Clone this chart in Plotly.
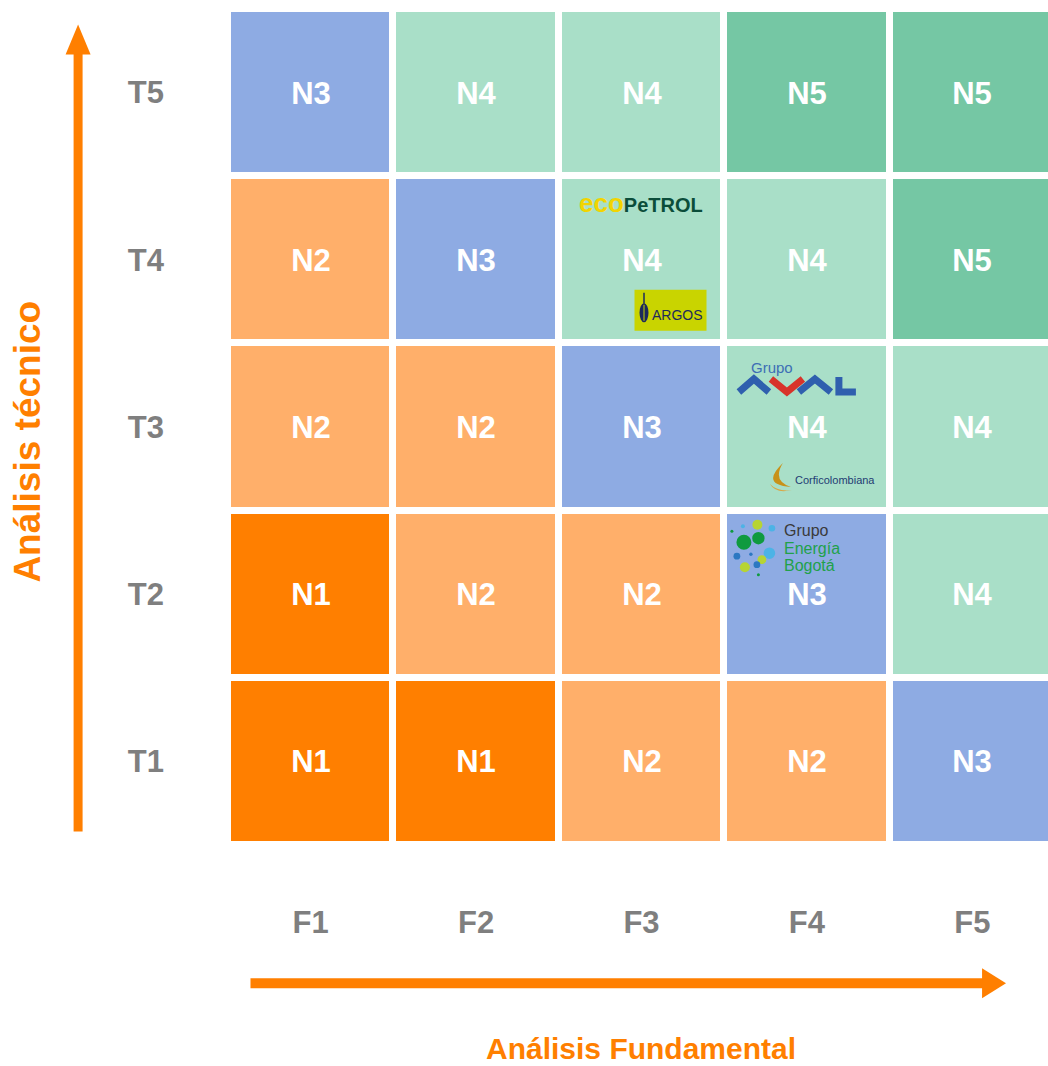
import plotly.graph_objects as go

# ---------------- data ----------------
fundamental = ["F1", "F2", "F3", "F4", "F5"]
tecnico = ["T1", "T2", "T3", "T4", "T5"]
# rows = T1..T5, columns = F1..F5
niveles = [
    ["N1", "N1", "N2", "N2", "N3"],  # T1
    ["N1", "N2", "N2", "N3", "N4"],  # T2
    ["N2", "N2", "N3", "N4", "N4"],  # T3
    ["N2", "N3", "N4", "N4", "N5"],  # T4
    ["N3", "N4", "N4", "N5", "N5"],  # T5
]
nivel_labels = ["N1", "N2", "N3", "N4", "N5"]
nivel_colors = ["#FF7F00", "#FFAF6A", "#8EABE3", "#A9DFC8", "#75C7A4"]

# companies placed in the matrix: (fundamental, tecnico)
empresa_ecopetrol = ("F3", "T4")
empresa_argos = ("F3", "T4")
empresa_aval = ("F4", "T3")
empresa_corfi = ("F4", "T3")
empresa_geb = ("F4", "T2")

ORANGE = "#FF7F00"
GRAY = "#7F7F7F"
SANS = "Liberation Sans, Arial, sans-serif"

# ---------------- figure geometry ----------------
W, H = 1048, 1066
ML, MT, MB = 227.5, 8.5, 220.5
PW = W - ML
PH = H - MT - MB
PITCH_X = 165.5

z = [[nivel_labels.index(v) + 1 for v in row] for row in niveles]
n = len(nivel_colors)
colorscale = []
for i, c in enumerate(nivel_colors):
    colorscale.append([i / n, c])
    colorscale.append([(i + 1) / n, c])

xi = list(range(len(fundamental)))
yi = list(range(len(tecnico)))

fig = go.Figure(
    go.Heatmap(
        x=xi, y=yi, z=z, text=niveles, texttemplate="%{text}",
        textfont=dict(family=SANS, size=31, color="white", weight="bold"),
        colorscale=colorscale, zmin=0.5, zmax=n + 0.5, showscale=False,
        xgap=7, ygap=7, hoverinfo="skip",
    )
)

fig.update_layout(
    width=W, height=H,
    margin=dict(l=ML, r=0, t=MT, b=MB, pad=0),
    paper_bgcolor="white", plot_bgcolor="white",
    showlegend=False,
)
fig.update_xaxes(
    range=[-0.5, -0.5 + PW / PITCH_X], tickvals=xi, ticktext=fundamental,
    showgrid=False, zeroline=False, showline=False, ticks="",
    tickfont=dict(family=SANS, size=31, color=GRAY, weight="bold"),
    ticklabelstandoff=56, fixedrange=True,
)
fig.update_yaxes(
    range=[-0.5, 4.5], tickvals=yi, ticktext=tecnico,
    showgrid=False, zeroline=False, showline=False, ticks="",
    tickfont=dict(family=SANS, size=31, color=GRAY, weight="bold"),
    ticklabelstandoff=63, fixedrange=True,
)


def px_x(p):
    return (p - ML) / PW


def px_y(p):
    return (MT + PH - p) / PH


shapes = []
annotations = []

# ---------------- axis arrows & titles ----------------
shapes.append(dict(type="line", xref="paper", yref="paper",
                   x0=px_x(77.5), x1=px_x(77.5), y0=px_y(832), y1=px_y(50),
                   line=dict(color=ORANGE, width=9)))
shapes.append(dict(type="path", xref="paper", yref="paper",
                   path=f"M {px_x(65)},{px_y(54)} L {px_x(90)},{px_y(54)} L {px_x(77.5)},{px_y(24)} Z",
                   fillcolor=ORANGE, line=dict(width=0)))
shapes.append(dict(type="line", xref="paper", yref="paper",
                   x0=px_x(250), x1=px_x(985), y0=px_y(984), y1=px_y(984),
                   line=dict(color=ORANGE, width=10)))
shapes.append(dict(type="path", xref="paper", yref="paper",
                   path=f"M {px_x(982)},{px_y(969)} L {px_x(982)},{px_y(999)} L {px_x(1006)},{px_y(984)} Z",
                   fillcolor=ORANGE, line=dict(width=0)))

annotations.append(dict(xref="paper", yref="paper", x=px_x(27), y=px_y(442),
                        text="Análisis técnico", showarrow=False, textangle=-90,
                        font=dict(family=SANS, size=37, color=ORANGE, weight="bold"),
                        xanchor="center", yanchor="middle"))
annotations.append(dict(xref="paper", yref="paper", x=px_x(641), y=px_y(1049),
                        text="Análisis Fundamental", showarrow=False,
                        font=dict(family=SANS, size=30, color=ORANGE, weight="bold"),
                        xanchor="center", yanchor="middle"))


# ---------------- logos (offsets in pixels from the cell centre, dy downward) ----------------
def cell(c):
    return fundamental.index(c[0]), tecnico.index(c[1])


def txt(c, dx, dy, text, size, color, family=SANS, weight="normal", xanchor="center"):
    cx, cy = cell(c)
    annotations.append(dict(xref="x", yref="y", x=cx, y=cy, xshift=dx, yshift=-dy,
                            text=text, showarrow=False, xanchor=xanchor, yanchor="middle",
                            font=dict(family=family, size=size, color=color, weight=weight)))


def circ(c, dx, dy, rx, ry, color):
    cx, cy = cell(c)
    shapes.append(dict(type="circle", xref="x", yref="y", xsizemode="pixel", ysizemode="pixel",
                       xanchor=cx, yanchor=cy, x0=dx - rx, x1=dx + rx, y0=-dy - ry, y1=-dy + ry,
                       fillcolor=color, line=dict(width=0)))


def rect(c, dx0, dy0, dx1, dy1, color):
    cx, cy = cell(c)
    shapes.append(dict(type="rect", xref="x", yref="y", xsizemode="pixel", ysizemode="pixel",
                       xanchor=cx, yanchor=cy, x0=dx0, x1=dx1, y0=-dy1, y1=-dy0,
                       fillcolor=color, line=dict(width=0)))


def poly(c, pts, color, width, fill=None):
    cx, cy = cell(c)
    d = "M " + " L ".join(f"{p[0]},{-p[1]}" for p in pts)
    if fill:
        d += " Z"
    shapes.append(dict(type="path", xref="x", yref="y", xsizemode="pixel", ysizemode="pixel",
                       xanchor=cx, yanchor=cy, path=d,
                       fillcolor=fill if fill else "rgba(0,0,0,0)",
                       line=dict(color=color, width=width)))


def qpath(c, d_pts, color):
    # start, ctrl, end, ctrl2 -> closed crescent
    cx, cy = cell(c)
    (s, c1, e, c2) = d_pts
    d = (f"M {s[0]},{-s[1]} Q {c1[0]},{-c1[1]} {e[0]},{-e[1]} "
         f"Q {c2[0]},{-c2[1]} {s[0]},{-s[1]} Z")
    shapes.append(dict(type="path", xref="x", yref="y", xsizemode="pixel", ysizemode="pixel",
                       xanchor=cx, yanchor=cy, path=d, fillcolor=color, line=dict(width=0)))


# Ecopetrol
txt(empresa_ecopetrol, -1, -57,
    "<span style='color:#F2D400;font-size:26px'>eco</span><span style='color:#0B4D3A'>PeTROL</span>",
    20, "#0B4D3A", weight="bold")

# Argos
rect(empresa_argos, -7, 30, 65, 71, "#C9D400")
circ(empresa_argos, 2.5, 53, 4.5, 9.5, "#1D2A5C")
poly(empresa_argos, [(2.5, 33), (2.5, 44)], "#1D2A5C", 1.5)
poly(empresa_argos, [(2.5, 45), (2.5, 61)], "#C9D400", 1)
txt(empresa_argos, 36, 55, "ARGOS", 14, "#1D2A5C")

# Grupo Aval
txt(empresa_aval, -35, -60, "Grupo", 15, "#3D6EB5")
poly(empresa_aval, [(-68, -35), (-53, -48), (-38, -35)], "#2F5FAE", 7)
poly(empresa_aval, [(-36, -48), (-20, -35), (-4, -48)], "#D8332A", 7)
poly(empresa_aval, [(-8, -35), (8, -48), (24, -35)], "#2F5FAE", 7)
poly(empresa_aval, [(32, -50), (32, -35), (49, -35)], "#2F5FAE", 7)

# Corficolombiana
qpath(empresa_corfi, [(-24, 36), (-47, 58), (-16, 60), (-35, 54)], "#C8921A")
qpath(empresa_corfi, [(-37, 57), (-31, 67), (-15, 63), (-29, 65)], "#D9A845")
txt(empresa_corfi, -14, 53, "Corficolombiana", 11, "#1F3C73", xanchor="left")

# Grupo Energía Bogotá
geb_dots = [
    (-75, -63, 1.5, "#0F9A3F"), (-64, -68, 2, "#4CB3E6"), (-49.5, -69.5, 5, "#B7D433"),
    (-35, -66, 3.3, "#4CB3E6"), (-63, -52, 7.5, "#0F9A3F"), (-48.5, -56, 6.2, "#0F9A3F"),
    (-37.5, -41, 5.8, "#4CB3E6"), (-70, -38, 3.4, "#2C78C2"), (-56, -40, 1.7, "#2C78C2"),
    (-45, -34.5, 4.4, "#B7D433"), (-50, -29.5, 3.4, "#2C78C2"), (-62, -27, 5, "#B7D433"),
    (-48.5, -19.5, 1.5, "#0F9A3F"),
]
for dx, dy, r, col in geb_dots:
    circ(empresa_geb, dx, dy, r, r, col)
txt(empresa_geb, -25, -64, "Grupo", 16, "#3A3A3A", xanchor="left")
txt(empresa_geb, -25, -46, "Energía", 16, "#21A14A", xanchor="left")
txt(empresa_geb, -25, -29, "Bogotá", 16, "#21A14A", xanchor="left")

fig.update_layout(shapes=shapes, annotations=annotations)
fig.write_html("out.html")
